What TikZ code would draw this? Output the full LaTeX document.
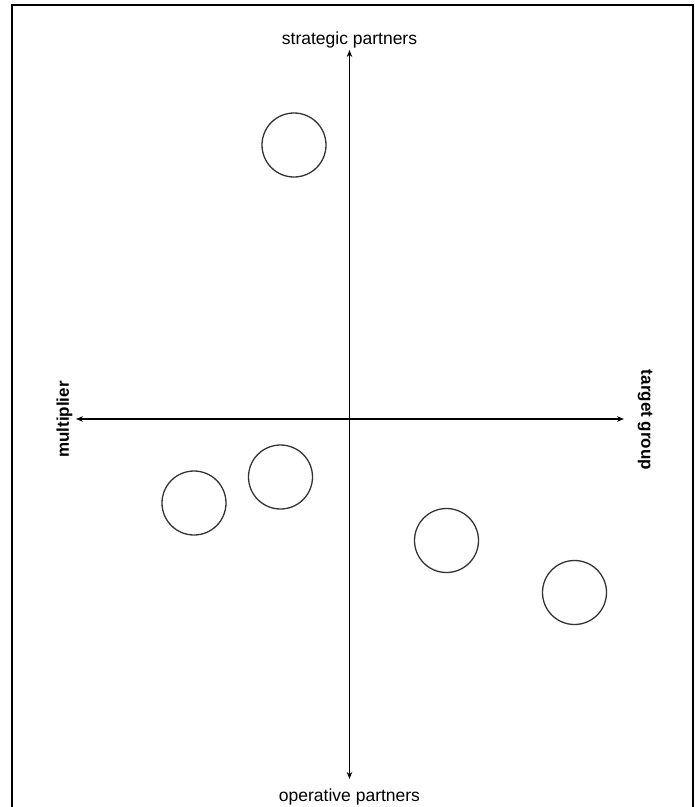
\documentclass[tikz,border=0pt]{standalone}
\usepackage{fontspec}
\setmainfont{Liberation Sans}
\usetikzlibrary{positioning,arrows.meta}
\tikzset{
  axisline/.style={{Stealth[length=7pt,width=5.5pt]}-{Stealth[length=7pt,width=5.5pt]}, line width=1.3pt, draw=black},
  partner/.style={circle, draw=black!80, line width=1.3pt, minimum size=64pt, inner sep=0pt},
  polelabel/.style={font=\fontsize{17.5}{20}\selectfont, inner sep=1pt},
  sidelabel/.style={font=\fontsize{17}{20}\selectfont\bfseries, inner sep=1pt},
  framebox/.style={line width=2pt, draw=black}
}
\begin{document}
\begin{tikzpicture}[x=1pt,y=-1pt]
  \useasboundingbox (0,0) rectangle (695,807);
  \draw[framebox] (12,830) -- (12,5) -- (693,5) -- (693,830);
  \coordinate (ntip) at (349.5,50);
  \coordinate (stip) at (349.5,779);
  \coordinate (wtip) at (76,419);
  \coordinate (etip) at (624,419);
  \node[polelabel, above=1pt of ntip] (strategic) {strategic partners};
  \node[polelabel, below=9pt of stip] (operative) {operative partners};
  \node[sidelabel, rotate=90] (multiplier) at (64.5,419.5) {multiplier};
  \node[sidelabel, rotate=-90] (target) at (645,420) {target group};
  \draw[axisline] (ntip) -- (stip);
  \draw[axisline] (wtip) -- (etip);
  \node[partner] (p1) at (294,145) {};
  \node[partner] (p2) at (280.5,477) {};
  \node[partner] (p3) at (194,503) {};
  \node[partner] (p4) at (446.5,540.5) {};
  \node[partner] (p5) at (574.5,592.5) {};
\end{tikzpicture}
\end{document}
